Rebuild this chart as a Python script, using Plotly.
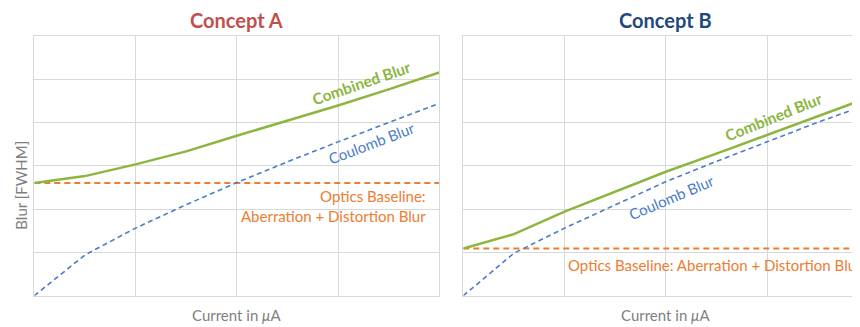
import plotly.graph_objects as go

# ---- data ----
x_vals = [0, 0.5, 1, 1.5, 2, 2.5, 3, 3.5, 4]
coulomb_a = [0.0, 0.94, 1.56, 2.10, 2.61, 3.09, 3.55, 4.00, 4.44]
combined_a = [2.60, 2.76, 3.03, 3.33, 3.69, 4.04, 4.39, 4.76, 5.15]
baseline_a = [2.60] * len(x_vals)

coulomb_b = [0.0, 0.98, 1.56, 2.10, 2.63, 3.10, 3.55, 4.00, 4.42]
combined_b = [1.09, 1.42, 1.94, 2.40, 2.86, 3.28, 3.71, 4.13, 4.57]
baseline_b = [1.09] * len(x_vals)

titles = ["Concept A", "Concept B"]
x_title = "Current in <i>μ</i>A"
y_title = "Blur [FWHM]"

GREEN = "#8CB63F"
BLUE = "#4A7CC8"
ORANGE = "#ED7D31"
GRID = "#D9D9D9"
FONT = "Lato"

OFF = 8  # page body margin
W, H = 860 - OFF, 327 - OFF
px_per_x = 101.25
left0, right0 = 34.3 - OFF, 463.3 - OFF
ytop, ybot = 35.7 - OFF, 295.7 - OFF

fig = go.Figure()

def add_panel(xa, ya, comb, coul, base):
    fig.add_trace(go.Scatter(x=x_vals, y=base, mode="lines", xaxis=xa, yaxis=ya,
                             line=dict(color=ORANGE, width=2, dash="6px,4px"), showlegend=False))
    fig.add_trace(go.Scatter(x=x_vals, y=coul, mode="lines", xaxis=xa, yaxis=ya,
                             line=dict(color=BLUE, width=1.6, dash="5px,3.5px"), showlegend=False))
    fig.add_trace(go.Scatter(x=x_vals, y=comb, mode="lines", xaxis=xa, yaxis=ya,
                             line=dict(color=GREEN, width=2.5), showlegend=False))

add_panel("x", "y", combined_a, coulomb_a, baseline_a)
add_panel("x2", "y2", combined_b, coulomb_b, baseline_b)

ydom = [(H - ybot) / H, (H - ytop) / H]
xr2 = (W - right0) / px_per_x

axis_common = dict(showgrid=True, gridcolor=GRID, gridwidth=1, zeroline=False,
                   showticklabels=False, ticks="", dtick=1, fixedrange=True)

fig.update_layout(
    width=W, height=H,
    margin=dict(l=0, r=0, t=0, b=0),
    paper_bgcolor="white", plot_bgcolor="white",
    font=dict(family=FONT),
    xaxis=dict(domain=[left0 / W, (left0 + 4 * px_per_x) / W], range=[0, 4],
               showline=True, linecolor=GRID, mirror=True, **axis_common),
    yaxis=dict(domain=ydom, range=[0, 6], showline=True, linecolor=GRID, mirror=True,
               **axis_common),
    xaxis2=dict(domain=[right0 / W, 1.0], range=[0, xr2], anchor="y2",
                showline=True, linecolor=GRID, mirror=True, **axis_common),
    yaxis2=dict(domain=ydom, range=[0, 6], anchor="x2", showline=True, linecolor=GRID,
                **axis_common),
)

def py(p):
    return (H - (p - OFF)) / H

C = dict(xanchor="center", yanchor="middle", showarrow=False)

ann = []
# titles
ann.append(dict(text="<b>Concept A</b>", xref="x", yref="paper", x=2, y=py(20),
                font=dict(size=20, color="#C0504D", family=FONT), **C))
ann.append(dict(text="<b>Concept B</b>", xref="x2", yref="paper", x=2, y=py(20),
                font=dict(size=20, color="#1F497D", family=FONT), **C))
# x titles
for xr in ["x", "x2"]:
    ann.append(dict(text=x_title, xref=xr, yref="paper", x=2, y=py(315),
                    font=dict(size=15, color="#7F7F7F", family=FONT), **C))
# y title
ann.append(dict(text=y_title, xref="paper", yref="paper", x=(20.7 - OFF) / W, y=py(185),
                textangle=-90, font=dict(size=15, color="#7F7F7F", family=FONT), **C))

# curve labels, panel A
ann.append(dict(text="<b>Combined Blur</b>", xref="x", yref="y", x=3.23, y=4.90, textangle=-19,
                font=dict(size=15.5, color=GREEN, family=FONT), **C))
ann.append(dict(text="Coulomb Blur", xref="x", yref="y", x=3.33, y=3.53, textangle=-21,
                font=dict(size=15, color=BLUE, family=FONT), **C))
ann.append(dict(text="Optics Baseline:<br>Aberration + Distortion Blur", xref="x", yref="y",
                x=3.89, y=2.07, xanchor="right", yanchor="middle", align="right", showarrow=False,
                font=dict(size=15, color=ORANGE, family=FONT)))
# curve labels, panel B
ann.append(dict(text="<b>Combined Blur</b>", xref="x2", yref="y2", x=3.06, y=4.13, textangle=-22,
                font=dict(size=15.5, color=GREEN, family=FONT), **C))
ann.append(dict(text="Coulomb Blur", xref="x2", yref="y2", x=2.06, y=2.28, textangle=-23,
                font=dict(size=15, color=BLUE, family=FONT), **C))
ann.append(dict(text="Optics Baseline: Aberration + Distortion Blur", xref="x2", yref="y2",
                x=1.01, y=0.71, xanchor="left", yanchor="middle", showarrow=False,
                font=dict(size=15, color=ORANGE, family=FONT)))

fig.update_layout(annotations=ann)
fig.write_html("out.html")
